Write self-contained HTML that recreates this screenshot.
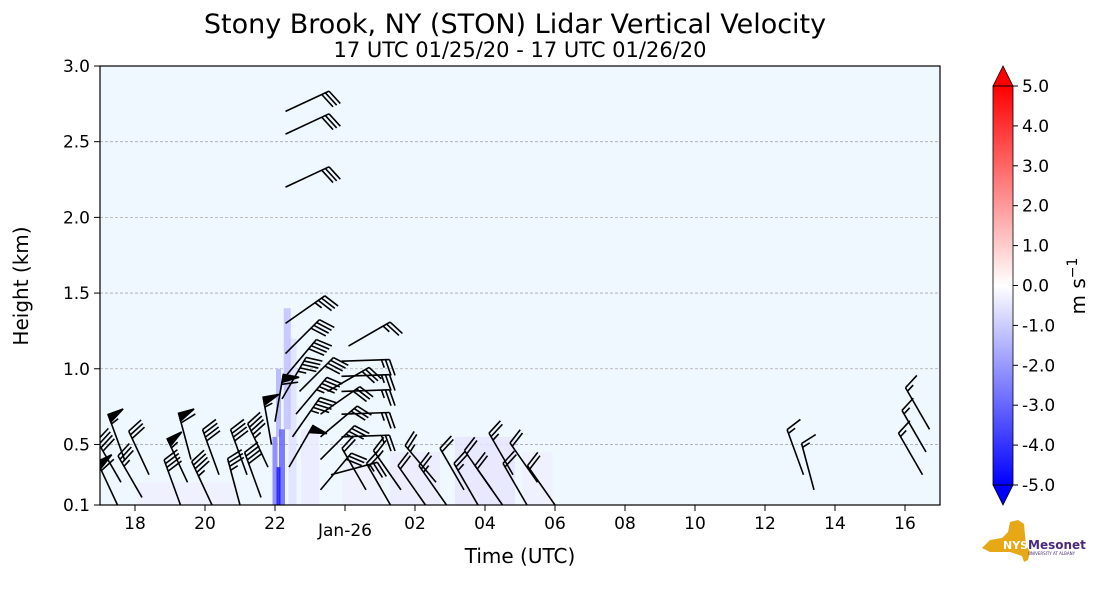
<!DOCTYPE html>
<html><head><meta charset="utf-8"><style>
html,body{margin:0;padding:0;background:#fff;width:1101px;height:600px;overflow:hidden}
svg text{font-family:"DejaVu Sans","Liberation Sans",sans-serif}
</style></head><body>
<svg id="chart" width="1101" height="600" viewBox="0 0 1101 600" xmlns="http://www.w3.org/2000/svg">
<defs>
<linearGradient id="cb" x1="0" y1="1" x2="0" y2="0">
<stop offset="0" stop-color="#0000ff"/><stop offset="0.5" stop-color="#ffffff"/><stop offset="1" stop-color="#ff0000"/>
</linearGradient>
<clipPath id="plotclip"><rect x="100" y="66" width="840" height="439"/></clipPath>
</defs>
<text x="515" y="33" font-size="27" text-anchor="middle">Stony Brook, NY (STON) Lidar Vertical Velocity</text>
<text x="520" y="57" font-size="21" text-anchor="middle">17 UTC 01/25/20 - 17 UTC 01/26/20</text>
<rect x="100" y="66" width="840" height="439" fill="#eff7ff"/>
<g id="grid"></g>
<g id="data" clip-path="url(#plotclip)"></g>
<rect x="100" y="66" width="840" height="439" fill="none" stroke="#000" stroke-width="1.2"/>
<g id="axes"></g>
<text transform="translate(28,286) rotate(-90)" font-size="20" text-anchor="middle">Height (km)</text>
<text x="520" y="563" font-size="20" text-anchor="middle">Time (UTC)</text>
<g>
<rect x="993" y="86" width="20" height="399" fill="url(#cb)" stroke="none"/>
<polygon points="993,86 1003,66 1013,86" fill="#ff0000" stroke="#000" stroke-width="0.8"/>
<polygon points="993,485 1003,505 1013,485" fill="#0000ff" stroke="#000" stroke-width="0.8"/>
<rect x="993" y="86" width="20" height="399" fill="none" stroke="#000" stroke-width="0.8"/>
<g id="cbticks"></g>
<text transform="translate(1085,286) rotate(-90)" font-size="20" text-anchor="middle">m s<tspan dy="-8" font-size="14">−1</tspan></text>
</g>
<g>
<polygon points="982,548 990,540 1002,538 1008,532 1010,522 1018,520 1024,524 1026,545 1030,552 1028,560 1024,562 1022,556 1010,552 990,552" fill="#e6a817"/>
<text x="1003" y="549" font-size="11" font-weight="bold" fill="#fff">NYS</text>
<text x="1028" y="549" font-size="12" font-weight="bold" fill="#4b2a7b">Mesonet</text>
<text x="1028" y="555" font-size="4" fill="#4b2a7b">UNIVERSITY AT ALBANY</text>
</g>
</svg>
<script>
const NS="http://www.w3.org/2000/svg";
const X0=100,PXH=35,Y0=505,PXKM=151.38;
function xs(t){return X0+(t-17)*PXH;}
function ys(h){return Y0-(h-0.1)*PXKM;}
function mk(tag,attrs,parent){const e=document.createElementNS(NS,tag);for(const k in attrs)e.setAttribute(k,attrs[k]);parent.appendChild(e);return e;}

const yTicks=[0.1,0.5,1.0,1.5,2.0,2.5,3.0];
const yTickLabels=["0.1","0.5","1.0","1.5","2.0","2.5","3.0"];
const xTicks=[18,20,22,24,26,28,30,32,34,36,38,40];
const xTickLabels=["18","20","22","Jan-26","02","04","06","08","10","12","14","16"];
const cbTicks=[5,4,3,2,1,0,-1,-2,-3,-4,-5];
const cbTickLabels=["5.0","4.0","3.0","2.0","1.0","0.0","-1.0","-2.0","-3.0","-4.0","-5.0"];

// wind barbs: time (h), height km, speed kt, staff angle (deg from vertical, negative=left)
const barbTime=[17.5,17.6,17.7,18.2,18.4,19.3,19.5,19.6,20.2,20.4,21.0,21.2,21.6,21.8,21.9,22.0,22.2,22.3,22.3,22.3,22.4,22.5,22.6,22.7,23.3,23.3,23.3,23.3,23.5,23.6,23.9,23.9,23.9,23.9,23.9,24.1,24.6,25.3,25.6,26.3,26.6,26.9,27.4,27.8,28.2,28.5,28.8,29.2,29.5,30.0,22.3,22.3,22.3,37.1,37.4,40.5,40.6,40.7];
const barbHeight=[0.1,0.25,0.4,0.15,0.3,0.1,0.25,0.4,0.1,0.3,0.1,0.3,0.15,0.35,0.5,0.65,0.8,0.95,1.1,1.3,0.35,0.55,0.7,0.85,0.2,0.4,0.55,0.7,0.85,0.3,0.55,0.7,0.85,0.95,1.05,1.15,0.2,0.1,0.2,0.1,0.25,0.1,0.2,0.1,0.2,0.1,0.3,0.1,0.25,0.1,2.7,2.55,2.2,0.3,0.2,0.3,0.45,0.6];
const barbSpeed=[60,40,55,35,30,40,55,60,45,40,35,40,40,45,55,60,45,40,40,35,50,45,45,40,30,35,30,30,30,25,25,25,25,25,25,25,20,20,25,20,25,25,20,25,20,20,25,20,20,20,30,30,30,15,15,15,15,15];
const barbAngle=[-25,-30,-20,-30,-25,-20,-25,-15,-25,-20,-15,-20,-20,-25,-10,10,30,40,45,55,30,35,40,45,40,45,50,55,60,75,88,88,88,88,88,60,-30,-30,-35,-35,-40,-35,-30,-30,-35,-35,-30,-30,-35,-35,65,65,65,-20,-15,-30,-30,-30];

// negative velocity patches: time, bottom km, top km, velocity
const patchTime=[22.0,22.1,22.2,22.35,22.1,22.5,23.0,24.5,26.0,28.0,29.5,19.5];
const patchBottom=[0.1,0.1,0.1,0.6,0.55,0.1,0.1,0.1,0.1,0.1,0.1,0.1];
const patchTop=[0.55,0.35,0.6,1.4,1.0,1.2,0.6,0.4,0.45,0.55,0.45,0.25];
const patchVel=[-2.5,-4.5,-3.0,-1.2,-1.5,-0.6,-0.4,-0.3,-0.4,-0.5,-0.3,-0.3];
const patchWidth=[5,4,6,7,5,8,18,40,50,60,30,100];

const grid=document.getElementById('grid'),axes=document.getElementById('axes'),data=document.getElementById('data');
yTicks.forEach((v,i)=>{const y=ys(v);
 if(i>0&&i<yTicks.length-1){const l=mk('line',{x1:100,x2:940,y1:y,y2:y,stroke:'#aaa','stroke-dasharray':'3,2','stroke-width':0.8},grid);
 }
 mk('line',{x1:94,x2:100,y1:y,y2:y,stroke:'#000'},axes);
 const t=mk('text',{x:90,y:y+6,'font-size':17,'text-anchor':'end'},axes);t.textContent=yTickLabels[i];
 });
xTicks.forEach((v,i)=>{const x=xs(v);
 mk('line',{x1:x,x2:x,y1:505,y2:511,stroke:'#000'},axes);
 const t=mk('text',{x:x,y:i==3?536:529,'font-size':17,'text-anchor':'middle'},axes);t.textContent=xTickLabels[i];
 });
const cbt=document.getElementById('cbticks');
cbTicks.forEach((v,i)=>{const y=285.5-v*39.9;
 mk('line',{x1:1013,x2:1018,y1:y,y2:y,stroke:'#000'},cbt);
 const t=mk('text',{x:1022,y:y+6,'font-size':17},cbt);t.textContent=cbTickLabels[i];
 });

function velColor(v){const f=Math.min(1,Math.abs(v)/5);const c=Math.round(255*(1-f));return v<0?`rgb(${c},${c},255)`:`rgb(255,${c},${c})`;}
// draw lighter patches first
const order=patchTime.map((_,i)=>i).sort((a,b)=>Math.abs(patchVel[a])-Math.abs(patchVel[b]));
order.forEach(i=>{const w=patchWidth[i];
 const r=mk('rect',{x:xs(patchTime[i])-w/2,y:ys(patchTop[i]),width:w,height:ys(patchBottom[i])-ys(patchTop[i]),fill:velColor(patchVel[i]),opacity:0.85},data);
 });

barbTime.forEach((t,i)=>{const g=mk('g',{stroke:'#000','stroke-width':1.6,fill:'#000'},data);
 
 const a=barbAngle[i]*Math.PI/180,L=48;const bx=xs(t),by=ys(barbHeight[i]);
 const dx=Math.sin(a),dy=-Math.cos(a);const tx=bx+dx*L,ty=by+dy*L;
 mk('line',{x1:bx,y1:by,x2:tx,y2:ty},g);
 const px=-dy,py=dx;
 let s=barbSpeed[i],pos=0;
 while(s>=50){const p1x=tx-dx*pos,p1y=ty-dy*pos,p2x=tx-dx*(pos+8),p2y=ty-dy*(pos+8);
  mk('polygon',{points:`${p1x},${p1y} ${p1x+px*16},${p1y+py*16} ${p2x},${p2y}`},g);pos+=10;s-=50;}
 while(s>=10){const bx1=tx-dx*pos,by1=ty-dy*pos;
  mk('line',{x1:bx1,y1:by1,x2:bx1+(px*16+dx*5),y2:by1+(py*16+dy*5)},g);pos+=4;s-=10;}
 if(s>=5){const bx1=tx-dx*pos,by1=ty-dy*pos;
  mk('line',{x1:bx1,y1:by1,x2:bx1+(px*8+dx*2.5),y2:by1+(py*8+dy*2.5)},g);}
});
</script>
</body></html>
